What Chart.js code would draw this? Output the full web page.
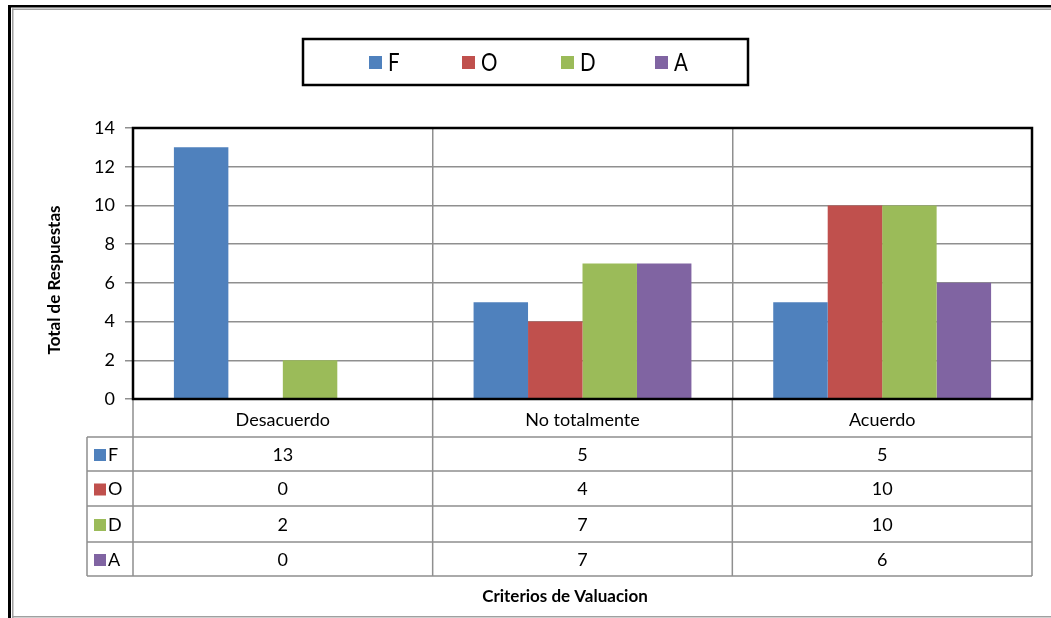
<!DOCTYPE html>
<html>
  <head>
    <title>Criterios de Valuacion</title>
    <script src="https://cdn.jsdelivr.net/npm/chart.js"></script>
    <style>
      body {
        margin: 0;
        background: #fff;
      }
    </style>
  </head>
  <body>
    <canvas id="chart" width="1051" height="618"></canvas>

    <script>
      const categories = ["Desacuerdo", "No totalmente", "Acuerdo"];
      const seriesNames = ["F", "O", "D", "A"];
      const valuesF = [13, 5, 5];
      const valuesO = [0, 4, 10];
      const valuesD = [2, 7, 10];
      const valuesA = [0, 7, 6];
      const seriesColors = ["#4F81BD", "#C0504D", "#9BBB59", "#8064A2"];
      const yTitle = "Total de Respuestas";
      const xTitle = "Criterios de Valuacion";

      const allValues = [valuesF, valuesO, valuesD, valuesA];
      const FONT = "Lato, 'Open Sans', sans-serif";
      const GRID = "#8f8f8f";

      // frame, legend box, data table and axis titles (Excel style)
      const excelPlugin = {
        id: "excel",
        beforeDraw(chart) {
          const ctx = chart.ctx;
          ctx.save();
          ctx.fillStyle = "#fff";
          ctx.fillRect(0, 0, chart.width, chart.height);
          // outer frame
          ctx.fillStyle = "#000";
          ctx.fillRect(8, 5, chart.width - 8, 2.5);
          ctx.fillRect(8, 5, 3, chart.height - 5);
          ctx.fillStyle = "#a0a0a0";
          ctx.fillRect(12, 8.5, chart.width - 12, 1.5);
          ctx.fillRect(12, 8.5, 1.5, chart.height - 8.5);
          ctx.fillRect(12, 616, chart.width - 12, 1.5);
          ctx.restore();
        },
        afterDraw(chart) {
          const ctx = chart.ctx;
          const area = chart.chartArea;
          const xs = chart.scales.x;
          const catW = (area.right - area.left) / categories.length;
          ctx.save();

          // table grid
          const rowTops = [437, 471, 506, 542, 576];
          const keyLeft = 87;
          ctx.strokeStyle = GRID;
          ctx.lineWidth = 1.5;
          ctx.beginPath();
          for (let i = 0; i <= categories.length; i++) {
            const x = area.left + i * catW;
            ctx.moveTo(x, area.bottom);
            ctx.lineTo(x, rowTops[rowTops.length - 1]);
          }
          ctx.moveTo(keyLeft, rowTops[0]);
          ctx.lineTo(keyLeft, rowTops[rowTops.length - 1]);
          rowTops.forEach((y) => {
            ctx.moveTo(keyLeft, y);
            ctx.lineTo(area.right, y);
          });
          ctx.stroke();

          // category labels row
          ctx.fillStyle = "#000";
          ctx.font = "18px " + FONT;
          ctx.textAlign = "center";
          ctx.textBaseline = "middle";
          categories.forEach((c, i) => {
            ctx.fillText(c, xs.getPixelForValue(i), 420);
          });

          // value rows
          seriesNames.forEach((name, r) => {
            const yMid = (rowTops[r] + rowTops[r + 1]) / 2 + 1;
            ctx.fillStyle = seriesColors[r];
            ctx.fillRect(94, yMid - 6, 12, 12);
            ctx.fillStyle = "#000";
            ctx.textAlign = "left";
            ctx.fillText(name, 108, yMid);
            ctx.textAlign = "center";
            allValues[r].forEach((v, i) => {
              ctx.fillText(String(v), xs.getPixelForValue(i), yMid);
            });
          });

          // plot area border
          ctx.strokeStyle = "#000";
          ctx.lineWidth = 2.5;
          ctx.strokeRect(area.left, area.top, area.right - area.left, area.bottom - area.top);

          // axis titles
          ctx.font = "bold 17px " + FONT;
          ctx.fillStyle = "#000";
          ctx.textAlign = "center";
          ctx.fillText(xTitle, 565, 597);
          ctx.translate(55, 280);
          ctx.rotate(-Math.PI / 2);
          ctx.fillText(yTitle, 0, 0);
          ctx.setTransform(1, 0, 0, 1, 0, 0);

          // legend box, with slightly condensed tall letters
          ctx.lineWidth = 2.5;
          ctx.strokeStyle = "#000";
          ctx.strokeRect(303, 39, 445, 46);
          const legendX = [369, 462, 561, 655];
          ctx.font = "25px " + FONT;
          ctx.textAlign = "left";
          seriesNames.forEach((name, i) => {
            ctx.fillStyle = seriesColors[i];
            ctx.fillRect(legendX[i], 56, 13, 13);
            ctx.fillStyle = "#000";
            ctx.save();
            ctx.translate(legendX[i] + 19, 63);
            ctx.scale(0.82, 1);
            ctx.fillText(name, 0, 0);
            ctx.restore();
          });
          ctx.restore();
        },
      };

      new Chart(document.getElementById("chart"), {
        type: "bar",
        data: {
          labels: categories,
          datasets: seriesNames.map((name, i) => ({
            label: name,
            data: allValues[i],
            backgroundColor: seriesColors[i],
            borderWidth: 0,
            categoryPercentage: 0.727,
            barPercentage: 1,
          })),
        },
        options: {
          responsive: false,
          animation: false,
          layout: {
            padding: { top: 128, right: 19, bottom: 219, left: 0 },
          },
          plugins: {
            legend: { display: false },
            tooltip: { enabled: false },
          },
          scales: {
            x: {
              grid: {
                offset: true,
                color: GRID,
                lineWidth: 1.5,
                drawTicks: false,
              },
              border: { display: false },
              ticks: { display: false },
              afterFit: (scale) => {
                scale.height = 0;
              },
            },
            y: {
              min: 0,
              max: 14,
              ticks: {
                stepSize: 2,
                color: "#000",
                padding: 10,
                font: { family: FONT, size: 18 },
              },
              grid: {
                color: GRID,
                lineWidth: 1.5,
                tickLength: 8,
              },
              border: { display: false },
              afterFit: (scale) => {
                scale.width = 133;
              },
            },
          },
        },
        plugins: [excelPlugin],
      });
    </script>
  </body>
</html>
